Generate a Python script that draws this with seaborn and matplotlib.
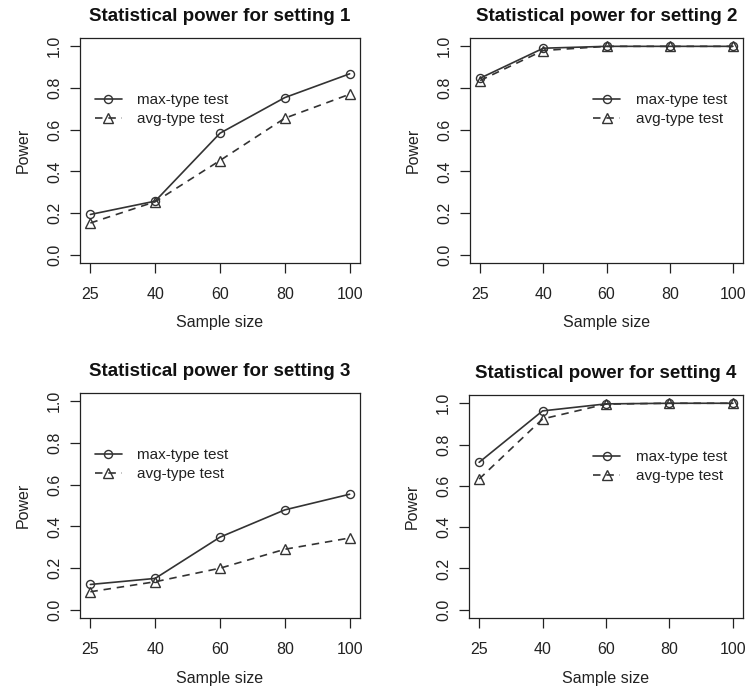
import matplotlib
matplotlib.use("Agg")
import matplotlib.pyplot as plt
import seaborn as sns
import pandas as pd

sns.set_theme(style="white")
plt.rcParams["font.family"] = ["Liberation Sans", "DejaVu Sans"]

sample_sizes = ["25", "40", "60", "80", "100"]
max_type = {
    1: [0.193, 0.257, 0.583, 0.754, 0.868],
    2: [0.847, 0.991, 1.000, 1.000, 1.000],
    3: [0.121, 0.150, 0.348, 0.479, 0.554],
    4: [0.714, 0.963, 0.997, 1.000, 1.000],
}
avg_type = {
    1: [0.152, 0.254, 0.452, 0.655, 0.770],
    2: [0.836, 0.980, 1.000, 1.000, 1.000],
    3: [0.086, 0.134, 0.199, 0.290, 0.344],
    4: [0.633, 0.924, 0.996, 1.000, 1.000],
}
series_labels = ["max-type test", "avg-type test"]
yticks = [0.0, 0.2, 0.4, 0.6, 0.8, 1.0]

W, H = 756, 694
fig = plt.figure(figsize=(W / 100, H / 100), dpi=100)

# axes boxes in pixel coordinates: left, top, right, bottom
boxes = {
    1: (80, 38, 360, 263),
    2: (470, 38, 743, 263),
    3: (80, 393, 360, 618),
    4: (469, 395, 743, 618),
}
legend_anchor = {1: (0.052, 0.756), 2: (0.45, 0.756), 3: (0.052, 0.756), 4: (0.452, 0.753)}

line_col = "#333333"
for k in range(1, 5):
    l, t, r, b = boxes[k]
    ax = fig.add_axes([l / W, 1 - b / H, (r - l) / W, (b - t) / H])
    pos = list(range(len(sample_sizes)))
    df = pd.DataFrame({"n": pos, "max": max_type[k], "avg": avg_type[k]})
    sns.lineplot(data=df, x="n", y="max", ax=ax, color=line_col, lw=1.2,
                 marker="o", markersize=5.8, markerfacecolor="none",
                 markeredgecolor=line_col, markeredgewidth=1.0,
                 label=series_labels[0])
    sns.lineplot(data=df, x="n", y="avg", ax=ax, color=line_col, lw=1.2,
                 linestyle=(0, (4.5, 3.5)), marker="^", markersize=6.5,
                 markerfacecolor="none", markeredgecolor=line_col,
                 markeredgewidth=1.0, label=series_labels[1])
    ax.set_xlim(-0.16, 4.16)
    ax.set_ylim(-0.04, 1.04)
    ax.set_xticks(pos)
    ax.set_xticklabels(sample_sizes)
    ax.set_yticks(yticks)
    ax.set_yticklabels([f"{v:.1f}" for v in yticks], rotation=90, va="center")
    ax.tick_params(axis="both", direction="out", length=7, width=0.9,
                   color="#222222", labelsize=11.5, labelcolor="#222222",
                   bottom=True, left=True)
    ax.tick_params(axis="x", pad=10)
    ax.tick_params(axis="y", pad=6)
    for s in ax.spines.values():
        s.set_color("#222222")
        s.set_linewidth(0.9)
    ax.set_xlabel("Sample size", fontsize=11.5, color="#222222", labelpad=10)
    ax.set_ylabel("Power", fontsize=11.5, color="#222222", labelpad=12)
    ax.set_title(f"Statistical power for setting {k}", fontsize=13.5,
                 fontweight="bold", color="#111111", pad=12)
    ax.legend(loc="upper left", bbox_to_anchor=legend_anchor[k], frameon=False,
              fontsize=11, handlelength=1.8, handletextpad=1.0,
              labelspacing=0.35, borderpad=0, borderaxespad=0,
              labelcolor="#222222")

fig.savefig("out.png", dpi=100, facecolor="white")
